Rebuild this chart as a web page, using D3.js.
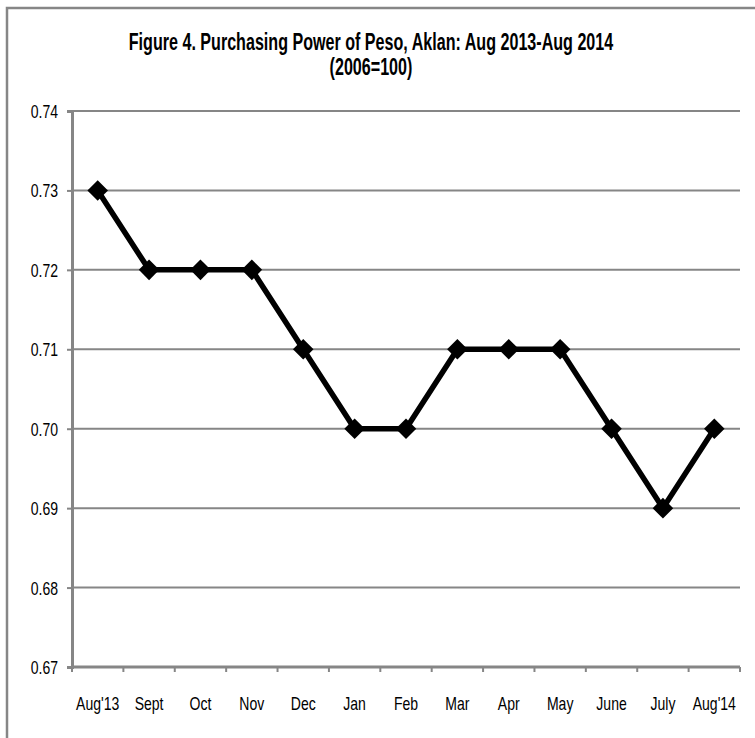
<!DOCTYPE html>
<html>
<head>
<meta charset="utf-8">
<script src="https://cdn.jsdelivr.net/npm/d3@7/dist/d3.min.js"></script>
<style>
    body { margin: 0; background: #fff; }
    svg { display: block; }
    text { font-family: "Liberation Sans", Arial, sans-serif; }
</style>
</head>
<body>
<script>
    var months = ["Aug'13", "Sept", "Oct", "Nov", "Dec", "Jan", "Feb", "Mar", "Apr", "May", "June", "July", "Aug'14"];
    var power = [0.73, 0.72, 0.72, 0.72, 0.71, 0.70, 0.70, 0.71, 0.71, 0.71, 0.70, 0.69, 0.70];
    var yTicks = [0.67, 0.68, 0.69, 0.70, 0.71, 0.72, 0.73, 0.74];
    var titleLines = ["Figure 4. Purchasing Power of Peso, Aklan: Aug 2013-Aug 2014", "(2006=100)"];

    var width = 755, height = 738;
    var padL = 72, padR = 740, padT = 111, padB = 667;
    var grey = "#868686";
    var narrow = 0.78; // squeeze text horizontally, like Arial Narrow

    var svg = d3.select("body")
        .append("svg")
        .attr("width", width)
        .attr("height", height);

    // outer frame (right and bottom edges fall outside the picture)
    svg.append("path")
        .attr("d", "M7," + height + "V8H" + width)
        .attr("fill", "none")
        .attr("stroke", grey)
        .attr("stroke-width", 2.5);

    svg.selectAll("text.title")
        .data(titleLines)
        .enter()
        .append("text")
        .attr("class", "title")
        .attr("transform", function(d, i) {
            return "translate(371," + (50 + i * 25) + ") scale(0.7,1)";
        })
        .attr("text-anchor", "middle")
        .style("font-size", "23px")
        .style("font-weight", "bold")
        .text(function(d) { return d; });

    var xScale = d3.scaleBand()
        .domain(months)
        .range([padL, padR]);

    var yScale = d3.scaleLinear()
        .domain([0.67, 0.74])
        .range([padB, padT]);

    // gridlines
    svg.append("g")
        .selectAll("line")
        .data(yTicks.slice(1))
        .enter()
        .append("line")
        .attr("x1", padL)
        .attr("x2", padR)
        .attr("y1", function(d) { return yScale(d); })
        .attr("y2", function(d) { return yScale(d); })
        .attr("stroke", grey)
        .attr("stroke-width", 2);

    var yAxis = svg.append("g")
        .attr("transform", "translate(" + padL + ",0)")
        .call(d3.axisLeft(yScale).tickValues(yTicks).tickFormat(d3.format(".2f")).tickSize(5).tickPadding(9));

    yAxis.select(".domain").attr("stroke", grey).attr("stroke-width", 3);
    yAxis.selectAll("line").attr("stroke", grey).attr("stroke-width", 2);
    yAxis.selectAll("text")
        .attr("fill", "#000")
        .attr("x", null)
        .attr("dy", null)
        .attr("transform", "translate(-14,6.5) scale(" + narrow + ",1)")
        .style("font-size", "18px")
        .style("font-family", "'Liberation Sans', Arial, sans-serif");

    // bottom axis with ticks at category boundaries
    var xAxis = svg.append("g")
        .attr("transform", "translate(0," + padB + ")");

    xAxis.append("line")
        .attr("x1", padL)
        .attr("x2", padR)
        .attr("stroke", grey)
        .attr("stroke-width", 3);

    var bounds = months.map(function(m) { return xScale(m); }).concat([padR]);
    xAxis.selectAll("line.tick")
        .data(bounds)
        .enter()
        .append("line")
        .attr("class", "tick")
        .attr("x1", function(d) { return d; })
        .attr("x2", function(d) { return d; })
        .attr("y1", 0)
        .attr("y2", 5)
        .attr("stroke", grey)
        .attr("stroke-width", 2);

    xAxis.selectAll("text")
        .data(months)
        .enter()
        .append("text")
        .attr("transform", function(d) {
            return "translate(" + (xScale(d) + xScale.bandwidth() / 2) + ",43) scale(" + narrow + ",1)";
        })
        .attr("text-anchor", "middle")
        .style("font-size", "18px")
        .text(function(d) { return d; });

    var line = d3.line()
        .x(function(d, i) { return xScale(months[i]) + xScale.bandwidth() / 2; })
        .y(function(d) { return yScale(d); });

    svg.append("path")
        .datum(power)
        .attr("fill", "none")
        .attr("stroke", "#000")
        .attr("stroke-width", 5.5)
        .attr("stroke-linejoin", "miter")
        .attr("d", line);

    svg.append("g")
        .selectAll("path")
        .data(power)
        .enter()
        .append("path")
        .attr("d", d3.symbol().type(d3.symbolDiamond2).size(270))
        .attr("transform", function(d, i) {
            return "translate(" + (xScale(months[i]) + xScale.bandwidth() / 2) + "," + yScale(d) + ")";
        })
        .attr("fill", "#000");
</script>
</body>
</html>
